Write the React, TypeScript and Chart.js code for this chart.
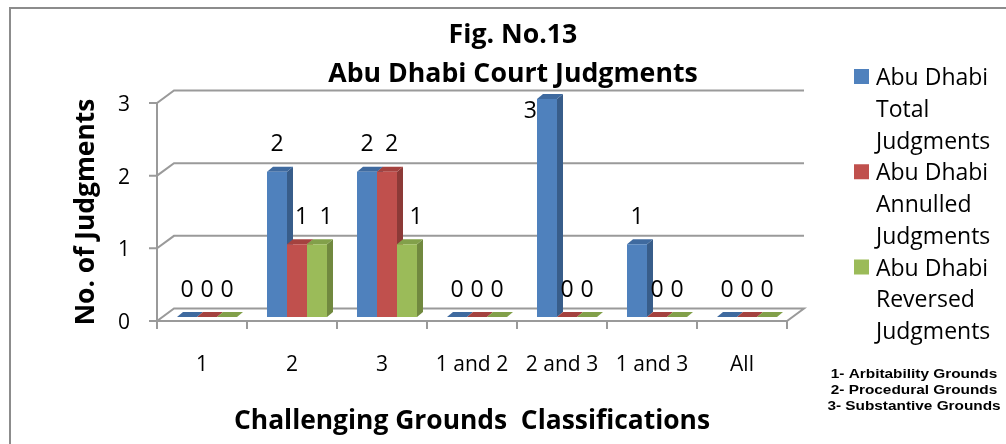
import React, { useEffect, useRef } from "react";
import { Chart, registerables } from "chart.js";

Chart.register(...registerables);

// ---------- data ----------
const categories = ["1", "2", "3", "1 and 2", "2 and 3", "1 and 3", "All"];
const totalJudgments = [0, 2, 2, 0, 3, 1, 0];
const annulledJudgments = [0, 1, 2, 0, 0, 0, 0];
const reversedJudgments = [0, 1, 1, 0, 0, 0, 0];
const seriesLabels = [
  "Abu Dhabi Total Judgments",
  "Abu Dhabi Annulled Judgments",
  "Abu Dhabi Reversed Judgments",
];
const legendLines = [
  ["Abu Dhabi", "Total", "Judgments"],
  ["Abu Dhabi", "Annulled", "Judgments"],
  ["Abu Dhabi", "Reversed", "Judgments"],
];
const yTickValues = [0, 1, 2, 3];
const titleLines = ["Fig. No.13", "Abu Dhabi Court Judgments"];
const xAxisTitle = "Challenging Grounds  Classifications";
const yAxisTitle = "No. of Judgments";
const footnotes = [
  "1- Arbitability Grounds",
  "2- Procedural Grounds",
  "3- Substantive Grounds",
];

// ---------- styles ----------
const FRONT = ["#4F81BD", "#C0504D", "#9BBB59"];
const SIDE = ["#385D8A", "#8C3A37", "#71893F"];
const TOP = ["#3F6A9F", "#A4423F", "#82A04A"];
const GRID = "#9a9a9a";
const FONT = '"Open Sans", sans-serif';

const FRONT_DX = -5;
const FRONT_DY = 4;
const DEPTH_DX = 17;
const DEPTH_DY = -12.5;
const BAR_DX = 6;
const BAR_DY = -5;

const excel3d = {
  id: "excel3d",
  beforeDraw(chart: any) {
    const { ctx } = chart;
    ctx.save();
    ctx.fillStyle = "#ffffff";
    ctx.fillRect(0, 0, chart.width, chart.height);
    ctx.strokeStyle = "#8c8c8c";
    ctx.lineWidth = 2;
    ctx.beginPath();
    ctx.moveTo(10, chart.height + 2);
    ctx.lineTo(10, 8);
    ctx.lineTo(chart.width + 2, 8);
    ctx.stroke();
    ctx.restore();
  },
  beforeDatasetsDraw(chart: any) {
    const { ctx, chartArea, scales } = chart;
    const ys = scales.y;
    const fl = chartArea.left + FRONT_DX;
    const fr = chartArea.right + FRONT_DX;
    const bl = fl + DEPTH_DX;
    const br = fr + DEPTH_DX;
    ctx.save();
    ctx.strokeStyle = GRID;
    ctx.lineWidth = 2;
    ctx.lineJoin = "miter";
    yTickValues.forEach((v) => {
      const yf = ys.getPixelForValue(v) + FRONT_DY;
      const yb = yf + DEPTH_DY;
      ctx.beginPath();
      ctx.moveTo(fl - 8, yf);
      ctx.lineTo(fl, yf);
      ctx.lineTo(bl, yb);
      ctx.lineTo(br, yb);
      if (v === 0) {
        ctx.lineTo(fr, yf);
        ctx.lineTo(fl, yf);
      }
      ctx.stroke();
    });
    const y0 = ys.getPixelForValue(0) + FRONT_DY;
    const yTop = ys.getPixelForValue(ys.max) + FRONT_DY;
    ctx.beginPath();
    ctx.moveTo(fl, yTop);
    ctx.lineTo(fl, y0);
    ctx.stroke();
    const n = categories.length;
    for (let k = 0; k <= n; k++) {
      const xk = fl + (k * (fr - fl)) / n;
      ctx.beginPath();
      ctx.moveTo(xk, y0);
      ctx.lineTo(xk, y0 + 8);
      ctx.stroke();
    }
    // 3D sides and tops
    const metas = chart.data.datasets.map((_: any, d: number) => chart.getDatasetMeta(d));
    for (let i = 0; i < n; i++) {
      metas.forEach((meta: any, d: number) => {
        const el = meta.data[i];
        if (!el) return;
        const p = el.getProps(["x", "y", "base", "width"], true);
        const left = p.x - p.width / 2;
        const right = p.x + p.width / 2;
        const top = p.y;
        const base = p.base;
        ctx.fillStyle = SIDE[d];
        ctx.beginPath();
        ctx.moveTo(right, top);
        ctx.lineTo(right + BAR_DX, top + BAR_DY);
        ctx.lineTo(right + BAR_DX, base + BAR_DY);
        ctx.lineTo(right, base);
        ctx.closePath();
        ctx.fill();
        ctx.fillStyle = TOP[d];
        ctx.beginPath();
        ctx.moveTo(left, top);
        ctx.lineTo(right, top);
        ctx.lineTo(right + BAR_DX, top + BAR_DY);
        ctx.lineTo(left + BAR_DX, top + BAR_DY);
        ctx.closePath();
        ctx.fill();
      });
    }
    ctx.restore();
  },
  afterDraw(chart: any) {
    const { ctx, chartArea } = chart;
    ctx.save();
    ctx.fillStyle = "#000000";
    // data labels
    ctx.font = `23px ${FONT}`;
    ctx.textBaseline = "middle";
    chart.data.datasets.forEach((ds: any, d: number) => {
      const meta = chart.getDatasetMeta(d);
      meta.data.forEach((el: any, i: number) => {
        const v = ds.data[i];
        const p = el.getProps(["x", "y", "width"], true);
        let lx = p.x + (v > 0 ? d * 4.5 : 0);
        let ly = p.y - 27;
        ctx.textAlign = "center";
        if (ly < chartArea.top + 12) {
          ly = chartArea.top + 12;
          lx = p.x - p.width / 2;
          ctx.textAlign = "right";
        }
        ctx.fillText(String(v), lx, ly);
      });
    });
    // title
    ctx.textAlign = "center";
    ctx.textBaseline = "alphabetic";
    ctx.font = `bold 26.7px ${FONT}`;
    ctx.fillText(titleLines[0], 513, 43);
    ctx.fillText(titleLines[1], 513, 82);
    // x title
    const fl = chartArea.left + FRONT_DX;
    const fr = chartArea.right + FRONT_DX;
    ctx.font = `bold 26.4px ${FONT}`;
    ctx.fillText(xAxisTitle, (fl + fr) / 2, 429);
    // y title
    ctx.save();
    ctx.translate(86, (chartArea.top + chartArea.bottom) / 2 + FRONT_DY);
    ctx.rotate(-Math.PI / 2);
    ctx.textBaseline = "middle";
    ctx.fillText(yAxisTitle, 0, 0);
    ctx.restore();
    // legend
    ctx.textAlign = "left";
    ctx.textBaseline = "alphabetic";
    ctx.font = `23px ${FONT}`;
    let line = 0;
    legendLines.forEach((lines, d) => {
      const baseY = 85 + line * 31.75;
      ctx.fillStyle = FRONT[d];
      ctx.fillRect(854, baseY - 16, 15, 15);
      ctx.fillStyle = "#000000";
      lines.forEach((t, j) => {
        ctx.fillText(t, 876, 85 + (line + j) * 31.75);
      });
      line += lines.length;
    });
    // footnotes
    ctx.font = 'bold 12px "Liberation Sans", Arial, sans-serif';
    ctx.textAlign = "center";
    ctx.textBaseline = "middle";
    footnotes.forEach((t, k) => {
      ctx.save();
      ctx.translate(914, 375 + k * 16);
      ctx.scale(1.28, 1);
      ctx.fillText(t, 0, 0);
      ctx.restore();
    });
    ctx.restore();
  },
};

export default function App() {
  const ref = useRef<HTMLCanvasElement | null>(null);
  useEffect(() => {
    if (!ref.current) return;
    const chart = new Chart(ref.current, {
      type: "bar",
      data: {
        labels: categories,
        datasets: [
          { label: seriesLabels[0], data: totalJudgments, backgroundColor: FRONT[0] },
          { label: seriesLabels[1], data: annulledJudgments, backgroundColor: FRONT[1] },
          { label: seriesLabels[2], data: reversedJudgments, backgroundColor: FRONT[2] },
        ],
      },
      options: {
        responsive: false,
        animation: false,
        devicePixelRatio: 1,
        layout: { padding: { left: 0, right: 214, top: 99, bottom: 0 } },
        datasets: { bar: { barPercentage: 1, categoryPercentage: 2 / 3, borderWidth: 0 } },
        plugins: {
          legend: { display: false },
          title: { display: false },
          tooltip: { enabled: false },
        },
        scales: {
          x: {
            grid: { display: false, drawTicks: false },
            border: { display: false },
            ticks: {
              color: "#000000",
              font: { family: FONT, size: 21 },
              padding: 35,
              labelOffset: FRONT_DX,
              maxRotation: 0,
              autoSkip: false,
            },
            afterFit: (s: any) => {
              s.height = 127;
            },
          },
          y: {
            min: 0,
            max: 3,
            grid: { display: false, drawTicks: false },
            border: { display: false },
            ticks: {
              stepSize: 1,
              color: "#000000",
              font: { family: FONT, size: 21 },
              padding: 32,
              labelOffset: 6,
            },
            afterFit: (s: any) => {
              s.width = 162;
            },
          },
        },
      },
      plugins: [excel3d],
    });
    return () => chart.destroy();
  }, []);
  return (
    <div style={{ position: "fixed", left: 0, top: 0, width: 1006, height: 444 }}>
      <canvas ref={ref} width={1006} height={444} />
    </div>
  );
}
